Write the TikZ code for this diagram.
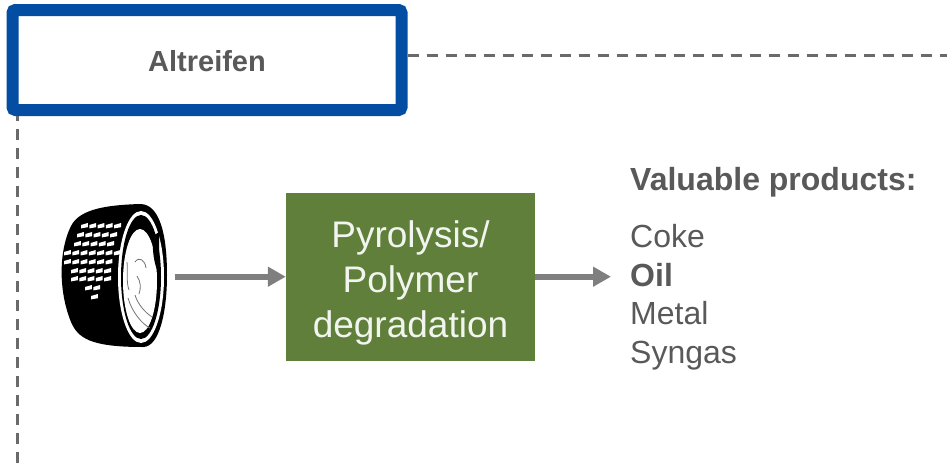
\documentclass[tikz,border=0pt]{standalone}
\usepackage{fontspec}
\setmainfont{Liberation Sans}
\usepackage{xcolor}
\usetikzlibrary{arrows.meta}
\definecolor{boxblue}{HTML}{034EA2}
\definecolor{procgreen}{HTML}{5F7F3A}
\definecolor{textgrey}{HTML}{595959}
\definecolor{arrowgrey}{HTML}{7F7F7F}
\begin{document}
\begin{tikzpicture}[x=1pt,y=-1pt]
		\tikzstyle{titlebox} = [draw=boxblue,line width=12pt,fill=white,rounded corners=3pt,minimum width=389pt,minimum height=100pt,text=textgrey,text height=23pt,font=\fontsize{29}{34}\selectfont\bfseries]
		\tikzstyle{procbox} = [fill=procgreen,text=white!92!procgreen,minimum width=249pt,minimum height=168pt,align=center,font=\fontsize{37}{45}\selectfont]
		\tikzstyle{prodtext} = [anchor=base west,inner sep=0pt,text=textgrey,font=\fontsize{32}{38}\selectfont]
		\tikzstyle{dashline} = [draw=textgrey!90,line width=3pt,dash pattern=on 11pt off 8pt]
		\tikzstyle{flow} = [draw=arrowgrey,line width=6pt,-{Triangle[length=18pt,width=19pt]}]
		\useasboundingbox (0,0) rectangle (947,466);
		% tyre
		\fill[black] (140,204) .. controls (110,205) and (80,208) .. (71,226) .. controls (59,250) and (58,290) .. (71,322) .. controls (78,338) and (90,347) .. (143,347) .. controls (160,347) and (167,310) .. (167,275) .. controls (167,235) and (160,204) .. (140,204) -- cycle;
		\fill[white] (141,277) ellipse [x radius=23,y radius=66];
		\fill[black] (141,277) ellipse [x radius=20,y radius=62];
		\fill[white] (140,281) ellipse [x radius=17,y radius=52];
		\fill[black] (153,236) .. controls (152,250) and (154,265) .. (159,274) -- (159,232) -- cycle;
		\draw[black!55,line width=0.8pt] (127,262) .. controls (128,272) and (126,282) .. (129,290) (135,262) .. controls (139,256) and (145,260) .. (146,268) (128,298) .. controls (132,312) and (142,324) .. (150,328) (135,295) .. controls (138,305) and (146,313) .. (152,317) (137,276) .. controls (141,282) and (141,288) .. (139,294);
		\foreach \rowy/\rowx/\rowcount in {225/81/5,234/77/5,243/74/5,252/64/7,261/64/6,270/71/5,278/71/5,287/85/2,296/91/1}
			\foreach \k in {1,...,\rowcount}
				\fill[white] ({\rowx+(\k-1)*8.3},\rowy) -- ++(6.8,-2) -- ++(0,4.2) -- ++(-6.8,1.2) -- cycle;
		% boxes
		\node[titlebox] (altreifen) at (207,60) {Altreifen};
		\node[procbox] (pyrolysis) at (410.5,277) {\rule{0pt}{38pt}Pyrolysis/\\Polymer\\degradation};
		\coordinate (dashright) at (947,55.3);
		\coordinate (dashdown) at (17.3,466);
		\coordinate (tyreout) at (175,276.7);
		\coordinate (prodin) at (611,276.7);
		\draw[dashline] (altreifen.east |- dashright)--(dashright);
		\draw[dashline,dash phase=6pt] (altreifen.south -| dashdown)--(dashdown);
		\draw[flow] (tyreout)--(tyreout -| pyrolysis.west);
		\draw[flow] (pyrolysis.east |- prodin)--(prodin);
		% products
		\node[prodtext,font=\fontsize{32}{38}\selectfont\bfseries] (valuable) at (630,190) {Valuable products:};
		\node[prodtext] (coke) at (630,247) {Coke};
		\node[prodtext,font=\fontsize{32}{38}\selectfont\bfseries] (oil) at (630,286) {Oil};
		\node[prodtext] (metal) at (630,324) {Metal};
		\node[prodtext] (syngas) at (630,363) {Syngas};
\end{tikzpicture}
\end{document}
